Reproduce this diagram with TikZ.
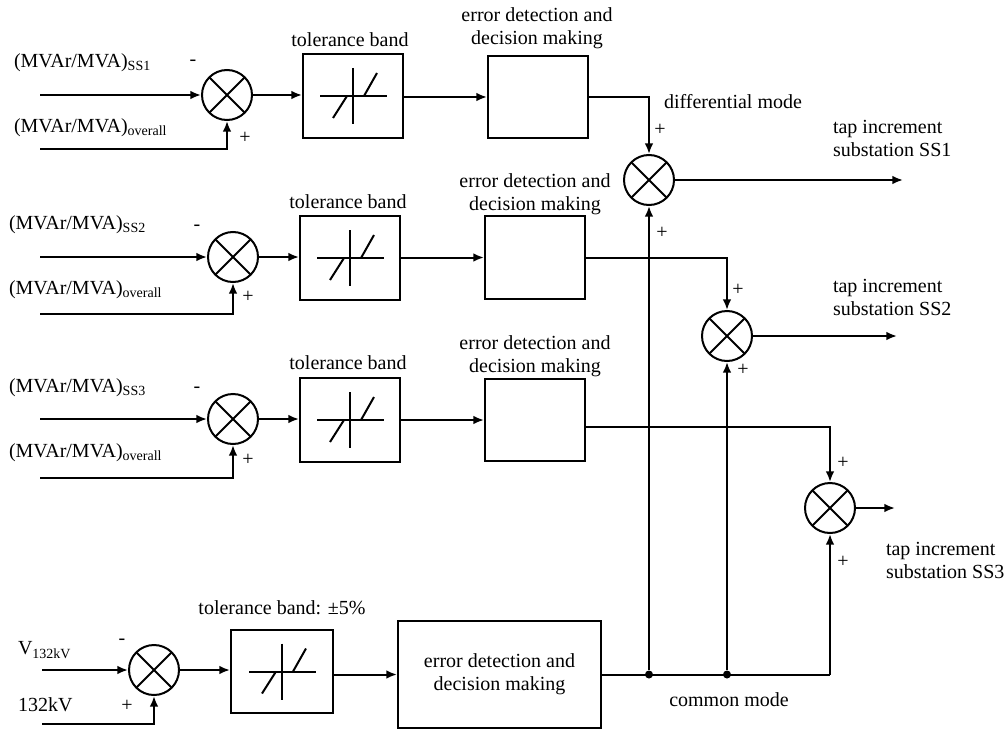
\documentclass[tikz,border=0pt]{standalone}
\usepackage{fontspec}
\setmainfont{Liberation Serif}
\usetikzlibrary{arrows.meta,calc}
\begin{document}
\begin{tikzpicture}[x=0.75pt,y=-0.75pt,
  line width=1.5pt,
  every node/.style={font=\fontsize{15pt}{17.25pt}\selectfont},
  blk/.style={draw, rectangle, inner sep=0pt, line width=1.5pt},
  tol/.style={blk, minimum width=75pt, minimum height=63pt},
  edb/.style={blk, minimum width=75pt, minimum height=62pt},
  sum/.style={draw, circle, minimum size=37.5pt, inner sep=0pt, line width=1.5pt,
    path picture={\draw[line width=1.5pt] (path picture bounding box.south west) -- (path picture bounding box.north east) (path picture bounding box.north west) -- (path picture bounding box.south east);}},
  arr/.style={-{Latex[length=8pt,width=6.5pt]}},
  sg/.style={font=\fontsize{15pt}{16pt}\selectfont, inner sep=0pt},
  lab/.style={align=center, inner sep=0pt},
  lft/.style={anchor=west, inner sep=0pt},
  dot/.style={circle, fill, inner sep=0pt, minimum size=6pt}
]
\useasboundingbox (0,0) rectangle (1005,731);

% ---------- row 1 ----------
\node[sum] (c1) at (227,95) {};
\node[tol] (t1) at (353,96) {};
\node[edb] (e1) at (538,97) {};
\node[lft] (l1a) at (13,63) {(MVAr/MVA)\textsubscript{SS1}};
\node[lft] (l1b) at (13,128) {(MVAr/MVA)\textsubscript{overall}};
\node[sg] (m1) at (193,63) {-};
\node[sg] (p1) at (245,138) {+};
\node[lab] (tl1) at (350,40) {tolerance band};
\node[lab] (el1) at (537,28.5) {error detection and\\decision making};
\coordinate (i1) at (40,95);
\coordinate (b1) at (40,149);
\draw[arr] (i1) -- (c1.west);
\draw[arr] (b1) -| (c1.south);
\draw[arr] (c1.east) -- (c1.east -| t1.west);
\draw[arr] (t1.east |- e1.west) -- (e1.west);

% ---------- row 2 ----------
\node[sum] (c2) at (233,257) {};
\node[tol] (t2) at (350,258) {};
\node[edb] (e2) at (535,257.5) {};
\node[lft] (l2a) at (8,225) {(MVAr/MVA)\textsubscript{SS2}};
\node[lft] (l2b) at (8,290) {(MVAr/MVA)\textsubscript{overall}};
\node[sg] (m2) at (197,228) {-};
\node[sg] (p2) at (248,297) {+};
\node[lab] (tl2) at (348,202) {tolerance band};
\node[lab] (el2) at (535,194) {error detection and\\decision making};
\coordinate (i2) at (40,257);
\coordinate (b2) at (40,314);
\draw[arr] (i2) -- (c2.west);
\draw[arr] (b2) -| (c2.south);
\draw[arr] (c2.east) -- (c2.east -| t2.west);
\draw[arr] (t2.east |- e2.west) -- (e2.west);

% ---------- row 3 ----------
\node[sum] (c3) at (233,419) {};
\node[tol] (t3) at (350,420) {};
\node[edb] (e3) at (535,420) {};
\node[lft] (l3a) at (8,388) {(MVAr/MVA)\textsubscript{SS3}};
\node[lft] (l3b) at (8,453) {(MVAr/MVA)\textsubscript{overall}};
\node[sg] (m3) at (197,390) {-};
\node[sg] (p3) at (248,460) {+};
\node[lab] (tl3) at (348,363) {tolerance band};
\node[lab] (el3) at (535,356.5) {error detection and\\decision making};
\coordinate (i3) at (40,419);
\coordinate (b3) at (40,478);
\draw[arr] (i3) -- (c3.west);
\draw[arr] (b3) -| (c3.south);
\draw[arr] (c3.east) -- (c3.east -| t3.west);
\draw[arr] (t3.east |- e3.west) -- (e3.west);

% ---------- bottom row ----------
\node[sum] (c4) at (154,670) {};
\node[tol, minimum width=76.5pt, minimum height=62.25pt] (t4) at (282,671.5) {};
\node[blk, minimum width=152.25pt, minimum height=80.25pt, align=center] (e4) at (499.5,674.5) {error detection and\\decision making};
\node[lft] (v1) at (17,650) {V\textsubscript{132kV}};
\node[lft] (v2) at (17,705) {132kV};
\node[sg] (m4) at (122,642) {-};
\node[sg] (p4) at (127,706) {+};
\node[lab] (tl4) at (282,608) {tolerance band: ±5\%};
\coordinate (i4) at (42,670);
\coordinate (b4) at (42,724);
\draw[arr] (i4) -- (c4.west);
\draw[arr] (b4) -| (c4.south);
\draw[arr] (c4.east) -- (c4.east -| t4.west);
\draw[arr] (t4.east |- e4.west) -- (e4.west);

% tolerance symbols
\foreach \t in {t1,t2,t3,t4}{
  \draw ($(\t)+(-33,0)$) -- ($(\t)+(34,0)$);
  \draw ($(\t)+(0,-28)$) -- ($(\t)+(0,28)$);
  \draw ($(\t)+(-20,22)$) -- ($(\t)+(-6,0)$);
  \draw ($(\t)+(11,0)$) -- ($(\t)+(24,-23)$);
}

% ---------- right side ----------
\node[sum] (s1) at (649,180) {};
\node[sum] (s2) at (727,336) {};
\node[sum] (s3) at (830,508) {};
\draw[arr] (e1.east) -| (s1.north);
\draw[arr] (e2.east) -| (s2.north);
\draw[arr] ($(e3.east)+(0,7)$) -| (s3.north);

\node[dot] (j1) at (649,674.5) {};
\node[dot] (j2) at (727,674.5) {};
\coordinate (cm) at (830,674.5);
\draw (e4.east) -- (cm);
\draw[arr] (cm) -- (s3.south);
\draw[arr] (j1) -- (s1.south);
\draw[arr] (j2) -- (s2.south);

\coordinate (o1) at (903,180);
\coordinate (o2) at (897,336);
\coordinate (o3) at (895,508);
\draw[arr] (s1.east) -- (o1);
\draw[arr] (s2.east) -- (o2);
\draw[arr] (s3.east) -- (o3);

\node[sg] (q1) at (660,130) {+};
\node[sg] (q2) at (662,233) {+};
\node[sg] (q3) at (738,290) {+};
\node[sg] (q4) at (743,370) {+};
\node[sg] (q5) at (843,463) {+};
\node[sg] (q6) at (843,562) {+};

\node[lab] (dm) at (733,102) {differential mode};
\node[lab] (cmm) at (729,700) {common mode};
\node[lft, align=left] (ti1) at (832,138.5) {tap increment\\substation SS1};
\node[lft, align=left] (ti2) at (832,297.5) {tap increment\\substation SS2};
\node[lft, align=left] (ti3) at (885,560) {tap increment\\substation SS3};
\end{tikzpicture}
\end{document}
